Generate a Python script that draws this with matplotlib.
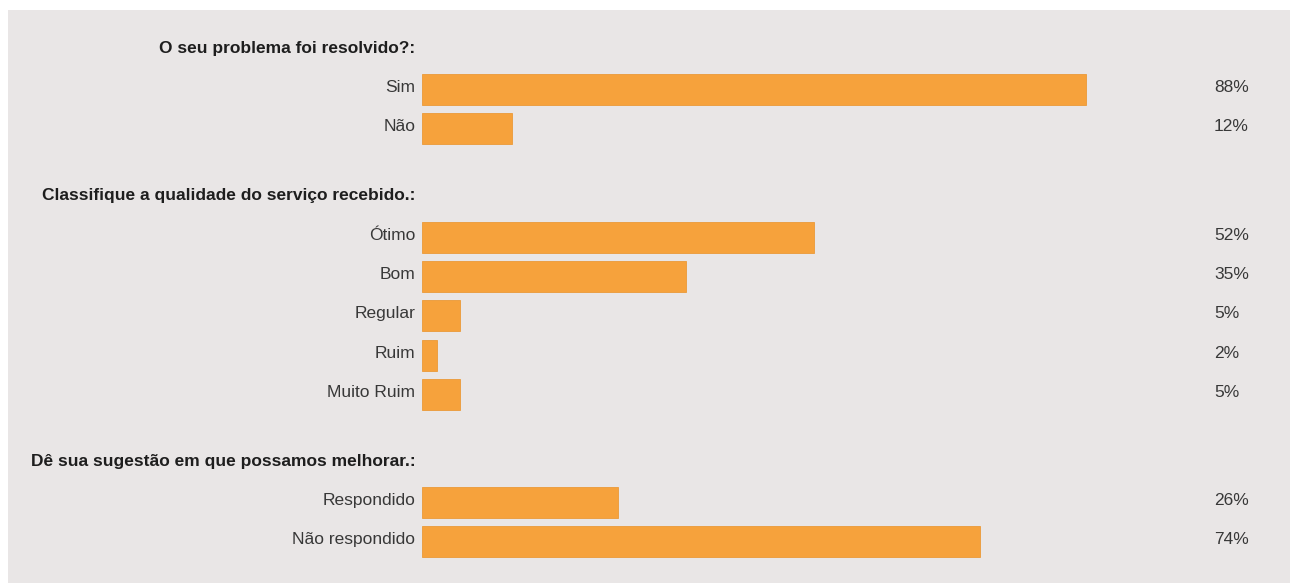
import matplotlib.pyplot as plt
from matplotlib.patches import Rectangle

# survey results
questions = [
    "O seu problema foi resolvido?:",
    "Classifique a qualidade do serviço recebido.:",
    "Dê sua sugestão em que possamos melhorar.:",
]
answers_q1 = ["Sim", "Não"]
values_q1 = [88, 12]
answers_q2 = ["Ótimo", "Bom", "Regular", "Ruim", "Muito Ruim"]
values_q2 = [52, 35, 5, 2, 5]
answers_q3 = ["Respondido", "Não respondido"]
values_q3 = [26, 74]

groups = [
    (questions[0], answers_q1, values_q1),
    (questions[1], answers_q2, values_q2),
    (questions[2], answers_q3, values_q3),
]

W, H = 1296, 583
BAR_X0 = 422      # pixel where the bars start
PX_PER_PCT = 7.54
PCT_X = 1214      # pixel where the percentage text starts

ORANGE = "#f6a23c"
BG = "#e9e6e6"

plt.rcParams['font.family'] = ['Liberation Sans', 'DejaVu Sans']

fig = plt.figure(figsize=(W / 100, H / 100), dpi=100, facecolor="white")
fig.patches.append(Rectangle((8 / W, 0), (W - 14) / W, (H - 10) / H,
                             transform=fig.transFigure, facecolor=BG,
                             edgecolor="none", zorder=-10))

ax = fig.add_axes([0, 0, 1, 1])
ax.set_facecolor("none")
ax.set_xlim(-BAR_X0 / PX_PER_PCT, (W - BAR_X0) / PX_PER_PCT)
ax.set_ylim(H, 0)
ax.axis('off')

label_x = -0.9
pct_x = (PCT_X - BAR_X0) / PX_PER_PCT
fs = 12.5

y = 48
for title, answers, values in groups:
    ax.text(label_x, y, title, ha='right', va='center', fontsize=fs,
            fontweight='bold', color="#1e1e1e")
    y += 41.5
    for ans, val in zip(answers, values):
        ax.barh(y, val, height=31, left=0, color=ORANGE,
                edgecolor="#eb9a38", linewidth=0.6)
        ax.text(label_x, y - 2, ans, ha='right', va='center', fontsize=fs,
                color="#383838")
        ax.text(pct_x, y - 2, f"{val}%", ha='left', va='center', fontsize=fs,
                color="#383838")
        y += 39.3
    y += 27.5

fig.savefig("out.png", dpi=100, facecolor=fig.get_facecolor())
